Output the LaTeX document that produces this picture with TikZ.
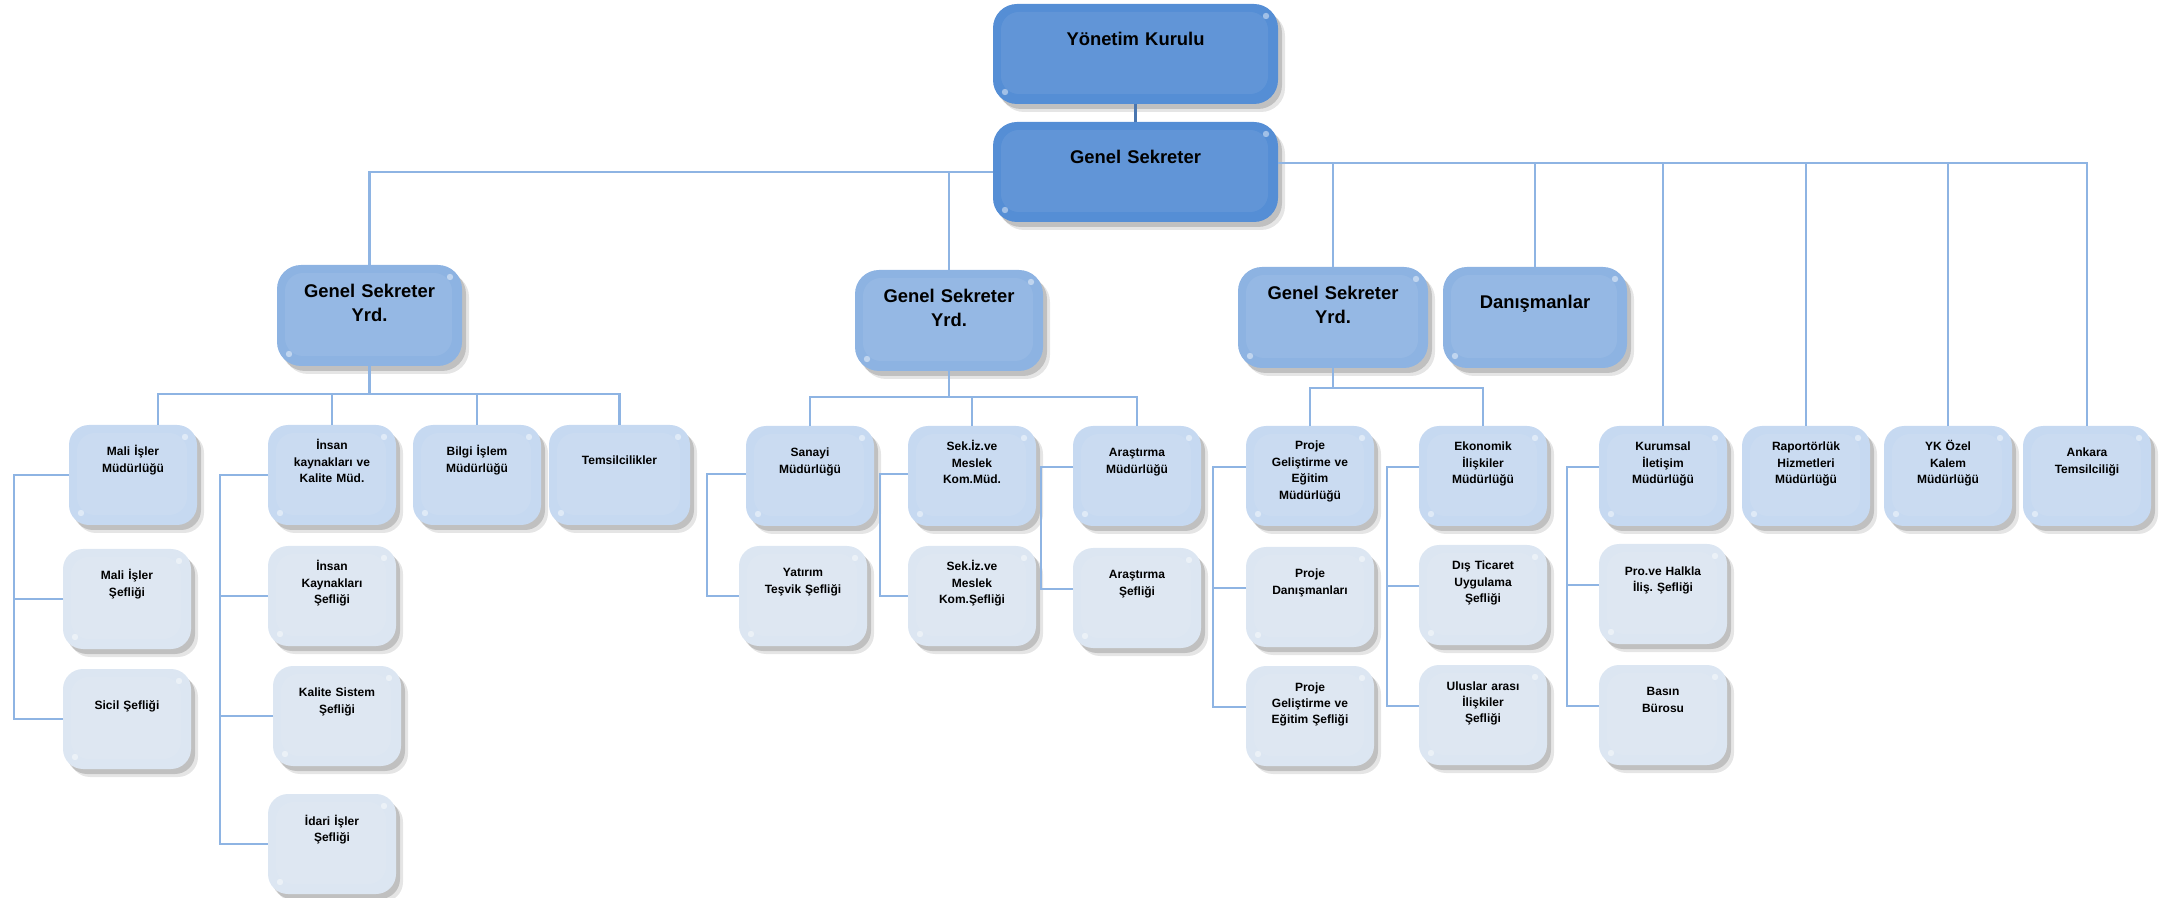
\documentclass[tikz,border=0pt]{standalone}
\usepackage{fontspec}
\setmainfont{Liberation Sans}
\usetikzlibrary{shadows}
\definecolor{c1}{RGB}{85,142,213}
\definecolor{c2}{RGB}{141,179,226}
\definecolor{c3}{RGB}{198,217,241}
\definecolor{c4}{RGB}{220,230,242}
\definecolor{lnc}{RGB}{142,180,227}
\definecolor{lnd}{RGB}{74,118,176}
\tikzset{
  box/.style={anchor=north west, inner sep=0pt, outer sep=0pt, align=center,
    rounded corners=10pt,
    drop shadow={shadow xshift=3.5pt, shadow yshift=-4pt, opacity=0.10, fill=black},
    drop shadow={shadow xshift=2pt, shadow yshift=-2.5pt, opacity=0.16, fill=black},
    path picture={\fill[white, opacity=0.07, rounded corners=9pt]
      ([xshift=4pt,yshift=-4pt]path picture bounding box.north west) rectangle
      ([xshift=-5pt,yshift=5pt]path picture bounding box.south east);
      \fill[white, opacity=0.45] ([xshift=-6pt,yshift=-6pt]path picture bounding box.north east) circle (1.6pt);
      \fill[white, opacity=0.45] ([xshift=6pt,yshift=6pt]path picture bounding box.south west) circle (1.6pt);}},
  big/.style={box, font=\fontsize{9.2pt}{12pt}\selectfont\bfseries\frenchspacing, rounded corners=12pt},
  small/.style={box, font=\fontsize{6pt}{8.2pt}\selectfont\bfseries\frenchspacing, text width=64pt},
  bone/.style={text height=21pt, text depth=29pt},
  btwo/.style={text height=16.5pt, text depth=34pt},
  sone/.style={text height=20pt, text depth=30pt},
  stwo/.style={text height=15.5pt, text depth=34.5pt},
  sthree/.style={text height=12.5pt, text depth=37.5pt},
  sfour/.style={text height=12pt, text depth=38pt},
  ln/.style={draw=lnc, line width=1.4pt},
}
\begin{document}
\begin{tikzpicture}[x=0.5pt, y=-0.5pt]
\useasboundingbox (0,0) rectangle (2170,898);

% top
\node[big, bone, fill=c1, text width=142.5pt] (yk) at (993,4) {Yönetim Kurulu};
\node[big, bone, fill=c1, text width=142.5pt] (gs) at (993,122) {Genel Sekreter};

% level 2
\node[big, btwo, fill=c2, text width=92.5pt] (gsy1) at (277,265) {Genel Sekreter\\Yrd.};
\node[big, btwo, fill=c2, text width=94pt] (gsy2) at (855,270) {Genel Sekreter\\Yrd.};
\node[big, btwo, fill=c2, text width=95pt] (gsy3) at (1238,267) {Genel Sekreter\\Yrd.};
\node[big, text height=21pt, text depth=29.5pt, fill=c2, text width=92pt] (dan) at (1443,267) {Danışmanlar};

% GSY1 group
\node[small, stwo, fill=c3] (mali) at (69,425) {Mali İşler\\Müdürlüğü};
\node[small, sthree, fill=c3] (insan) at (268,425) {İnsan\\kaynakları ve\\Kalite Müd.};
\node[small, stwo, fill=c3] (bilgi) at (413,425) {Bilgi İşlem\\Müdürlüğü};
\node[small, sone, fill=c3, text width=70.5pt] (tems) at (549,425) {Temsilcilikler};
\node[small, stwo, fill=c4] (mals) at (63,549) {Mali İşler\\Şefliği};
\node[small, sone, fill=c4] (sicil) at (63,669) {Sicil Şefliği};
\node[small, sthree, fill=c4] (iks) at (268,546) {İnsan\\Kaynakları\\Şefliği};
\node[small, stwo, fill=c4] (kal) at (273,666) {Kalite Sistem\\Şefliği};
\node[small, stwo, fill=c4] (idari) at (268,794) {İdari İşler\\Şefliği};

% GSY2 group
\node[small, stwo, fill=c3] (sanayi) at (746,426) {Sanayi\\Müdürlüğü};
\node[small, sthree, fill=c3] (sekiz) at (908,426) {Sek.İz.ve\\Meslek\\Kom.Müd.};
\node[small, stwo, fill=c3] (arast) at (1073,426) {Araştırma\\Müdürlüğü};
\node[small, stwo, fill=c4] (yat) at (739,546) {Yatırım\\Teşvik Şefliği};
\node[small, sthree, fill=c4] (sekizs) at (908,546) {Sek.İz.ve\\Meslek\\Kom.Şefliği};
\node[small, stwo, fill=c4] (ars) at (1073,548) {Araştırma\\Şefliği};

% GSY3 group
\node[small, sfour, fill=c3] (proje) at (1246,426) {Proje\\Geliştirme ve\\Eğitim\\Müdürlüğü};
\node[small, sthree, fill=c3] (eko) at (1419,426) {Ekonomik\\İlişkiler\\Müdürlüğü};
\node[small, stwo, fill=c4] (projdan) at (1246,547) {Proje\\Danışmanları};
\node[small, sthree, fill=c4] (projsef) at (1246,666) {Proje\\Geliştirme ve\\Eğitim Şefliği};
\node[small, sthree, fill=c4] (dis) at (1419,545) {Dış Ticaret\\Uygulama\\Şefliği};
\node[small, sthree, fill=c4] (ulus) at (1419,665) {Uluslar arası\\İlişkiler\\Şefliği};

% right side
\node[small, sthree, fill=c3] (kur) at (1599,426) {Kurumsal\\İletişim\\Müdürlüğü};
\node[small, sthree, fill=c3] (rap) at (1742,426) {Raportörlük\\Hizmetleri\\Müdürlüğü};
\node[small, sthree, fill=c3] (ozel) at (1884,426) {YK Özel\\Kalem\\Müdürlüğü};
\node[small, stwo, fill=c3] (ank) at (2023,426) {Ankara\\Temsilciliği};
\node[small, stwo, fill=c4] (pro) at (1599,544) {Pro.ve Halkla\\İliş. Şefliği};
\node[small, stwo, fill=c4] (basin) at (1599,665) {Basın\\Bürosu};

% connectors
\draw[draw=lnd, line width=1.6pt] (yk.south) -- (gs.north);
\draw[ln] (gs.west) -| (gsy1.north);
\draw[ln] (gs.west) -| (gsy2.north);
\coordinate (r) at ([yshift=4.5pt]gs.east);
\foreach \n in {gsy3,dan,kur,rap,ozel,ank} \draw[ln] (r) -| (\n.north);

% GSY1
\coordinate (b1) at (gsy1.south |- 0,394);
\draw[ln] (gsy1.south) -- (b1);
\draw[ln] (b1) -| ([xshift=12.5pt]mali.north);
\draw[ln] (b1) -| (insan.north);
\draw[ln] (b1) -| (bilgi.north);
\draw[ln] (b1) -| (tems.north);
\draw[ln] (mali.west) -- ++(-27.5pt,0) coordinate (k1) |- (sicil.west);
\draw[ln] (mals.west) -| (k1);
\draw[ln] (insan.west) -- ++(-24pt,0) coordinate (k2) |- (idari.west);
\draw[ln] (iks.west) -| (k2);
\draw[ln] (kal.west) -| (k2);

% GSY2
\coordinate (b2) at (gsy2.south |- 0,397);
\draw[ln] (gsy2.south) -- (b2);
\draw[ln] (b2) -| (sanayi.north);
\draw[ln] (b2) -| (sekiz.north);
\draw[ln] (b2) -| (arast.north);
\draw[ln] ([yshift=1pt]sanayi.west) -- ++(-19.5pt,0) |- (yat.west);
\draw[ln] ([yshift=1pt]sekiz.west) -- ++(-14pt,0) |- (sekizs.west);
\draw[ln] ([yshift=4.5pt]arast.west) -- ++(-16pt,0) |- ([yshift=4.5pt]ars.west);

% GSY3
\coordinate (b3) at (gsy3.south |- 0,388);
\draw[ln] (gsy3.south) -- (b3);
\draw[ln] (b3) -| (proje.north);
\draw[ln] (b3) -| (eko.north);
\draw[ln] ([yshift=4.5pt]proje.west) -- ++(-16.5pt,0) coordinate (k6) |- ([yshift=4.5pt]projsef.west);
\draw[ln] ([yshift=4.5pt]projdan.west) -| (k6);
\draw[ln] ([yshift=4.5pt]eko.west) -- ++(-16pt,0) coordinate (k7) |- ([yshift=4.5pt]ulus.west);
\draw[ln] ([yshift=4.5pt]dis.west) -| (k7);
\draw[ln] ([yshift=4.5pt]kur.west) -- ++(-16pt,0) coordinate (k8) |- ([yshift=4.5pt]basin.west);
\draw[ln] ([yshift=4.5pt]pro.west) -| (k8);
\end{tikzpicture}
\end{document}
